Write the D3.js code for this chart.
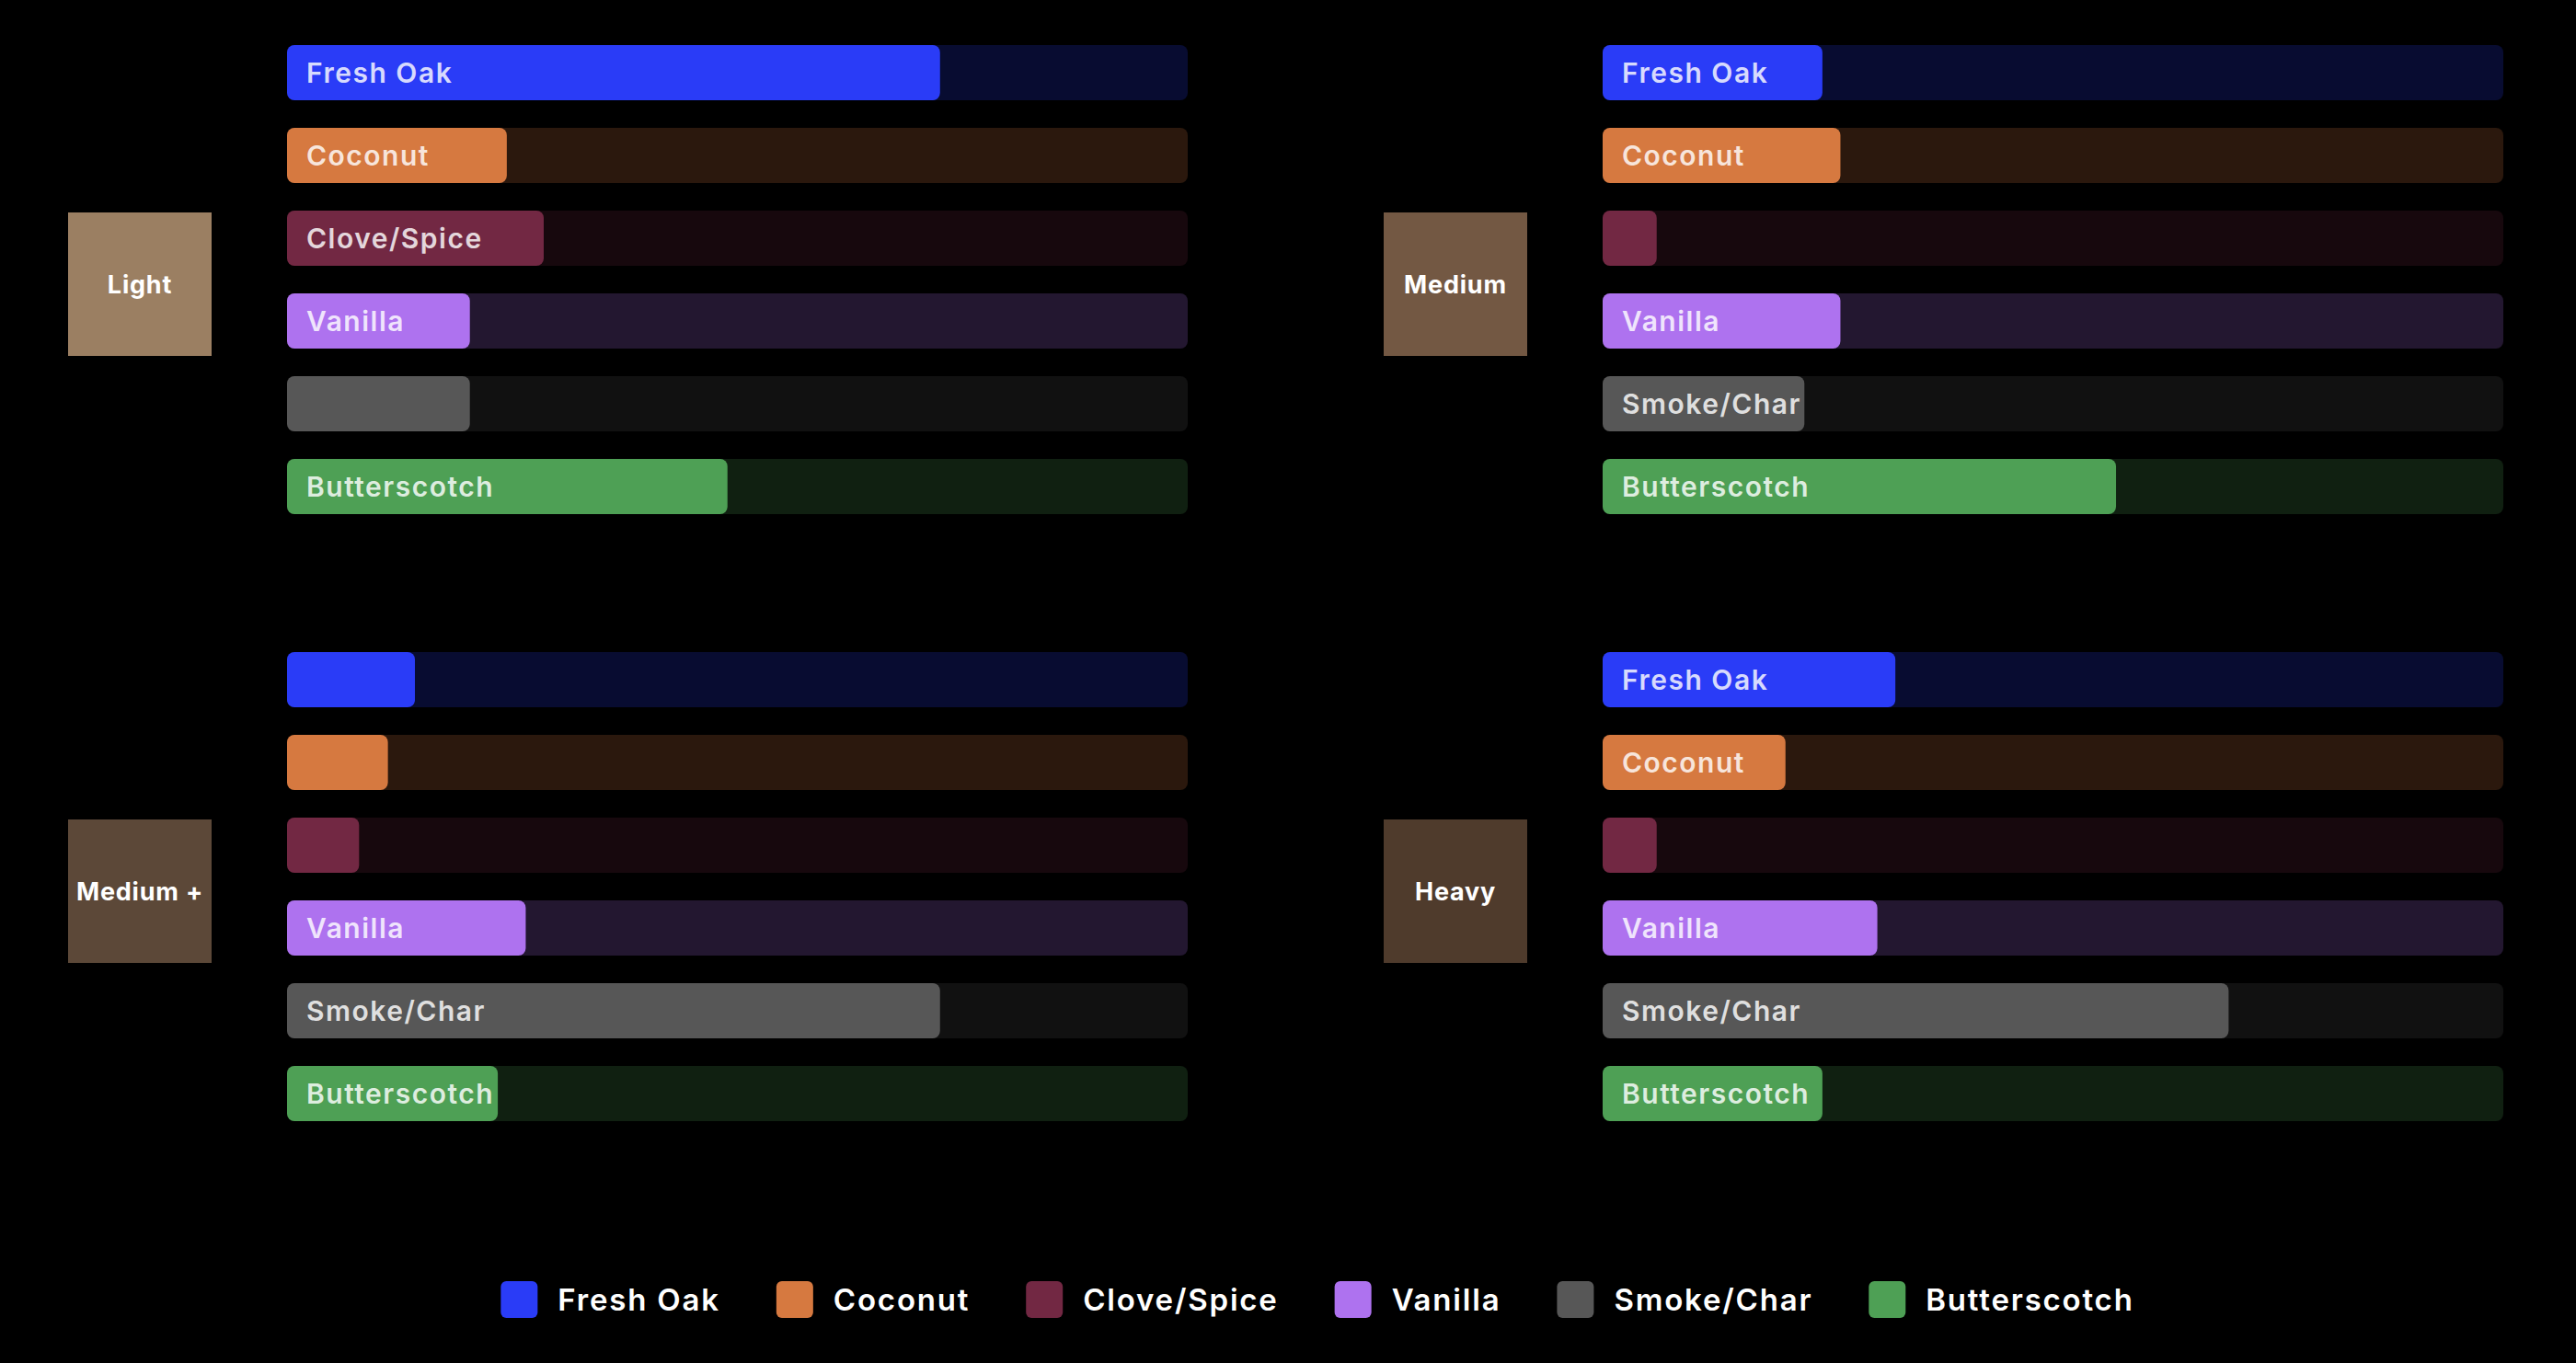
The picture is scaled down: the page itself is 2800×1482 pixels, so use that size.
<!DOCTYPE html>
<html>
<head>
<meta charset="utf-8">
<script src="https://cdn.jsdelivr.net/npm/d3@7"></script>
<style>
  html, body { margin: 0; padding: 0; background: #000; }
  svg { display: block; }
</style>
</head>
<body>
<svg id="chart" width="2800" height="1482"></svg>
<script>
// ---------- DATA ----------
const flavors = ["Fresh Oak", "Coconut", "Clove/Spice", "Vanilla", "Smoke/Char", "Butterscotch"];
const flavorColors = ["#2a3cf7", "#d67940", "#722843", "#ae72ef", "#575757", "#4ea055"];
const toastLevels = ["Light", "Medium", "Medium +", "Heavy"];
const toastColors = ["#9b7f62", "#735843", "#5c4838", "#4f3b2c"];
// intensity (% of full scale) per flavor, in the flavor order above
const lightValues   = [72.5, 24.4, 28.5, 20.3, 20.3, 48.9];
const mediumValues  = [24.4, 26.4, 6.0, 26.4, 22.4, 57.0];
const mediumPlusValues = [14.2, 11.2, 8.0, 26.5, 72.5, 23.4];
const heavyValues   = [32.5, 20.3, 6.0, 30.5, 69.5, 24.4];
const seriesValues = [lightValues, mediumValues, mediumPlusValues, heavyValues];

// ---------- LAYOUT ----------
const svg = d3.select("#chart");
svg.append("rect").attr("width", 2800).attr("height", 1482).attr("fill", "#000");

const panelOrigins = [[0, 0], [1430, 0], [0, 660], [1430, 660]];
const labelFont = "Inter, 'Open Sans', sans-serif";

const x = d3.scaleLinear().domain([0, 100]).range([312, 1291]);
const y = d3.scaleBand().domain(flavors).range([49, 559]).paddingInner(1 / 3).paddingOuter(0);
const color = d3.scaleOrdinal().domain(flavors).range(flavorColors);
const boxColor = d3.scaleOrdinal().domain(toastLevels).range(toastColors);

toastLevels.forEach((level, i) => {
  const [ox, oy] = panelOrigins[i];
  const g = svg.append("g").attr("transform", `translate(${ox},${oy})`);
  const data = flavors.map((f, j) => ({ flavor: f, value: seriesValues[i][j] }));

  // category box
  g.append("rect")
    .attr("x", 74).attr("y", 231).attr("width", 156).attr("height", 156)
    .attr("fill", boxColor(level));
  g.append("text")
    .attr("x", 152).attr("y", 309 + 9.8)
    .attr("text-anchor", "middle")
    .attr("fill", "#ffffff")
    .style("font-family", labelFont)
    .style("font-weight", 700)
    .style("font-size", "27px")
    .style("letter-spacing", "0.8px")
    .text(level);

  // tracks
  g.selectAll("rect.track").data(data).join("rect")
    .attr("class", "track")
    .attr("x", x(0)).attr("y", d => y(d.flavor))
    .attr("width", x(100) - x(0)).attr("height", y.bandwidth())
    .attr("rx", 8).attr("ry", 8)
    .attr("fill", d => color(d.flavor)).attr("fill-opacity", 0.2);

  // fills
  g.selectAll("rect.fill").data(data).join("rect")
    .attr("class", "fill")
    .attr("x", x(0)).attr("y", d => y(d.flavor))
    .attr("width", d => x(d.value) - x(0)).attr("height", y.bandwidth())
    .attr("rx", 8).attr("ry", 8)
    .attr("fill", d => color(d.flavor));

  // labels inside fills (only when they fit)
  g.selectAll("text.lab").data(data).join("text")
    .attr("class", "lab")
    .attr("x", x(0) + 21)
    .attr("y", d => y(d.flavor) + y.bandwidth() / 2 + 10.5)
    .attr("fill", "#ffffff").attr("fill-opacity", 0.82)
    .style("font-family", labelFont)
    .style("font-weight", 600)
    .style("font-size", "30px")
    .style("letter-spacing", "1.5px")
    .text(d => d.flavor)
    .each(function (d) {
      const w = this.getComputedTextLength();
      if (w + 21 + 3 > x(d.value) - x(0)) d3.select(this).remove();
    });
});

// ---------- LEGEND ----------
const legend = svg.append("g");
const items = legend.selectAll("g.item").data(flavors).join("g").attr("class", "item");
items.append("rect")
  .attr("width", 40).attr("height", 40).attr("y", 1393).attr("rx", 6).attr("ry", 6)
  .attr("fill", d => color(d));
items.append("text")
  .attr("x", 62).attr("y", 1413 + 11.5)
  .attr("fill", "#ffffff")
  .style("font-family", labelFont)
  .style("font-weight", 600)
  .style("font-size", "33px")
  .style("letter-spacing", "1.8px")
  .text(d => d);
let cursor = 0;
const offsets = [];
items.each(function () {
  offsets.push(cursor);
  const w = d3.select(this).select("text").node().getComputedTextLength();
  cursor += 62 + w + 61;
});
const totalW = cursor - 61;
const startX = 1432 - totalW / 2;
items.attr("transform", (d, i) => `translate(${startX + offsets[i]},0)`);
</script>
</body>
</html>
